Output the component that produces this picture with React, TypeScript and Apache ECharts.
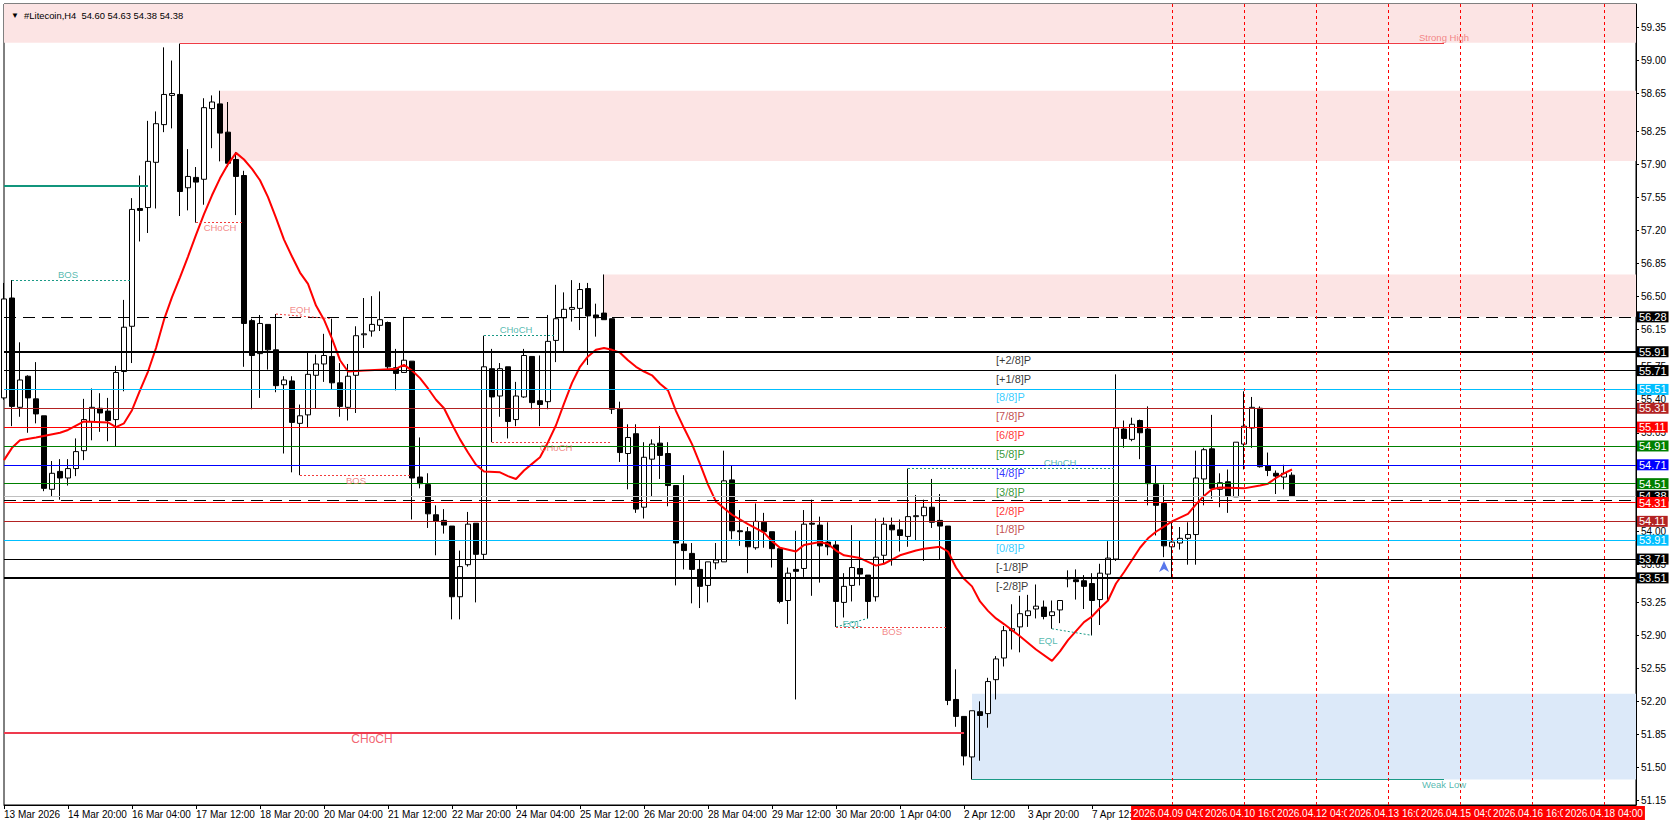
import React, { useEffect, useRef } from "react";
import * as echarts from "echarts";

const FONT = "Liberation Sans, Arial, sans-serif";

// ---- axis data ----
const SLOT_COUNT = 205; // bars + empty future slots on the time axis
const categories = Array.from({ length: SLOT_COUNT }, (_, i) => String(i));
const timeLabels = [
  "13 Mar 2026", "14 Mar 20:00", "16 Mar 04:00", "17 Mar 12:00", "18 Mar 20:00",
  "20 Mar 04:00", "21 Mar 12:00", "22 Mar 20:00", "24 Mar 04:00", "25 Mar 12:00",
  "26 Mar 20:00", "28 Mar 04:00", "29 Mar 12:00", "30 Mar 20:00", "1 Apr 04:00",
  "2 Apr 12:00", "3 Apr 20:00", "7 Apr 12:00",
];
const yTicks = [
  59.35, 59.0, 58.65, 58.25, 57.9, 57.55, 57.2, 56.85, 56.5, 56.15, 55.75, 55.4,
  55.05, 54.7, 54.35, 54.0, 53.65, 53.25, 52.9, 52.55, 52.2, 51.85, 51.5, 51.15,
];

// ---- candles (H4) ----
const opens = [55.42,56.48,55.32,55.65,55.41,55.23,54.45,54.64,54.57,54.67,
54.86,55.17,55.31,55.28,55.19,55.70,56.18,57.43,57.44,57.92,
58.32,58.63,58.64,57.65,57.76,57.74,58.49,58.54,58.24,57.95,
57.78,56.24,55.89,56.20,55.93,55.56,55.60,55.15,55.24,55.66,
55.78,55.86,55.58,55.32,55.66,56.09,56.13,56.19,56.22,55.74,
55.69,55.81,54.58,54.50,54.18,54.12,54.06,53.31,53.65,54.09,
53.76,55.73,55.44,55.75,55.19,55.43,55.86,55.39,55.38,56.03,
56.27,56.36,56.37,56.58,56.30,56.32,56.26,55.30,54.83,55.04,
54.26,54.77,54.94,54.83,54.49,53.87,53.77,53.60,53.43,53.67,
53.68,54.55,54.01,54.00,53.83,54.10,54.00,53.82,53.27,53.60,
53.61,54.09,54.07,53.89,53.86,53.25,53.43,53.61,53.54,53.31,
53.75,54.07,54.02,53.95,54.16,54.17,54.26,54.12,54.06,52.22,
52.04,51.61,52.09,52.07,52.43,52.66,52.95,52.99,53.11,53.18,
53.20,53.11,53.17,53.50,53.49,53.48,53.45,53.28,53.55,53.71,
55.09,54.98,55.18,55.09,54.50,54.30,53.84,53.88,53.93,53.97,
54.56,54.88,54.45,54.53,54.37,54.93,55.10,55.31,54.70,54.62,
54.58,54.60];
const highs = [56.64,56.67,56.01,55.66,55.80,55.23,54.75,54.77,54.77,54.99,
55.41,55.52,55.47,55.42,55.76,56.46,57.54,57.78,58.36,58.46,
59.14,59.00,59.18,58.06,57.87,58.60,58.63,58.68,58.56,58.03,
57.83,56.26,56.30,56.20,56.31,55.65,55.65,55.35,55.90,55.88,
56.10,56.26,55.79,55.78,56.18,56.48,56.50,56.55,56.23,55.94,
56.28,55.81,55.00,54.62,54.28,54.24,54.06,53.80,54.21,54.09,
56.08,55.94,55.79,55.75,55.59,55.94,55.86,55.87,56.30,56.62,
56.54,56.67,56.64,56.64,56.42,56.73,56.26,55.38,55.14,55.14,
54.95,54.98,55.12,54.95,54.49,54.60,53.88,53.71,53.68,53.88,
54.86,54.70,54.23,54.05,54.30,54.20,54.00,53.82,53.62,54.01,
54.23,54.34,54.16,54.10,53.91,53.56,54.07,53.91,53.54,54.14,
54.15,54.15,54.13,54.67,54.39,54.34,54.56,54.40,54.06,52.54,
52.04,52.10,52.20,52.45,52.68,53.00,53.23,53.32,53.33,53.44,
53.27,53.27,53.27,53.59,53.60,53.54,53.56,53.66,53.90,55.67,
55.18,55.21,55.19,55.33,54.70,54.50,54.10,54.05,54.10,54.86,
54.89,55.24,54.62,54.66,54.95,55.49,55.43,55.33,54.84,54.65,
54.71,54.63];
const lows = [55.40,55.12,55.22,55.05,55.15,54.43,54.37,54.34,54.49,54.59,
54.76,54.97,55.06,54.96,54.90,55.49,55.79,57.08,57.17,57.43,
58.24,58.28,57.35,57.41,57.28,57.47,58.07,57.93,57.87,57.36,
55.75,55.30,55.42,55.72,55.48,54.83,54.63,54.60,55.10,55.31,
55.59,55.51,55.22,55.18,55.26,55.95,56.07,56.13,55.71,55.50,
55.69,54.13,54.46,54.04,53.75,53.98,53.07,53.07,53.63,53.25,
53.70,54.95,55.22,54.99,55.12,55.42,55.30,55.12,55.30,55.80,
55.91,56.23,56.14,55.77,56.07,56.25,55.25,54.74,54.45,54.20,
54.14,54.37,54.56,54.27,53.43,53.60,53.24,53.19,53.25,53.60,
53.68,53.92,53.85,53.56,53.81,53.83,53.62,53.24,53.02,52.22,
53.52,53.32,53.46,53.75,52.99,53.09,53.26,53.43,53.08,53.26,
53.66,53.64,53.79,53.84,53.91,53.69,54.04,53.71,52.16,51.93,
51.52,51.37,51.57,51.92,52.22,52.57,52.75,52.72,52.99,53.08,
53.07,52.97,53.03,53.41,53.28,53.18,52.90,53.01,53.27,53.69,
54.89,54.96,54.77,54.28,53.96,53.73,53.51,53.81,53.65,53.65,
54.28,54.35,54.26,54.20,54.37,54.66,54.89,54.68,54.59,54.40,
54.45,54.38];
const closes = [56.47,55.33,55.61,55.42,55.25,54.46,54.62,54.57,54.67,54.85,
55.19,55.32,55.26,55.18,55.69,56.17,57.42,57.41,57.93,58.33,
58.64,58.65,57.61,57.77,57.71,58.50,58.56,58.23,57.91,57.77,
56.21,55.87,56.21,55.93,55.55,55.61,55.16,55.23,55.67,55.78,
55.87,55.58,55.33,55.65,56.08,56.10,56.20,56.25,55.75,55.68,
55.82,54.57,54.51,54.19,54.11,54.07,53.31,53.63,54.08,53.76,
55.75,55.43,55.73,55.17,55.44,55.87,55.37,55.35,56.02,56.26,
56.36,56.38,56.57,56.29,56.27,56.25,55.30,54.84,55.00,54.24,
54.79,54.93,54.81,54.49,53.88,53.80,53.60,53.42,53.68,53.70,
54.54,54.01,54.00,53.84,54.11,54.00,53.82,53.26,53.56,53.58,
54.08,54.08,53.85,53.84,53.26,53.42,53.62,53.55,53.26,53.73,
54.08,54.02,53.96,54.16,54.17,54.26,54.10,54.06,52.21,52.04,
51.62,52.10,52.05,52.41,52.65,52.95,52.97,53.13,53.16,53.21,
53.10,53.15,53.27,53.51,53.47,53.42,53.27,53.56,53.72,55.10,
54.99,55.14,55.05,54.51,54.28,53.85,53.89,53.93,53.97,54.57,
54.87,54.46,54.52,54.38,54.95,55.12,55.32,54.69,54.65,54.59,
54.62,54.38];

// ---- moving average (bar index, value) ----
const maPoints = [
  [0,54.76],[1,54.89],[2,54.97],[4,55.00],[7,55.05],[8,55.08],[10,55.17],[13,55.16],[14,55.11],[15,55.15],
  [16,55.29],[17,55.50],[18,55.70],[19,55.95],[20,56.25],[21,56.49],[22,56.70],[23,56.92],[24,57.15],[25,57.37],
  [26,57.57],[27,57.75],[28,57.90],[29,58.02],[30,57.95],[31,57.85],[32,57.73],[33,57.55],[34,57.33],[35,57.10],
  [36,56.92],[37,56.75],[38,56.63],[39,56.40],[40,56.25],[41,56.05],[42,55.82],[43,55.70],[45,55.71],[47,55.72],
  [49,55.73],[50,55.77],[51,55.71],[52,55.63],[53,55.52],[54,55.40],[55,55.31],[56,55.14],[57,54.98],[58,54.84],
  [59,54.71],[60,54.64],[62,54.63],[63,54.59],[64,54.56],[65,54.65],[66,54.72],[67,54.79],[68,54.95],[69,55.13],
  [70,55.36],[71,55.58],[72,55.75],[73,55.86],[74,55.93],[75,55.95],[76,55.93],[77,55.90],[78,55.82],[79,55.75],
  [80,55.70],[81,55.66],[82,55.57],[83,55.50],[84,55.28],[85,55.10],[86,54.93],[87,54.72],[88,54.50],[89,54.32],
  [91,54.18],[93,54.08],[95,53.99],[96,53.90],[97,53.83],[99,53.79],[100,53.86],[102,53.89],[103,53.87],[104,53.80],
  [105,53.75],[107,53.72],[109,53.64],[110,53.66],[112,53.75],[114,53.80],[115,53.82],[117,53.84],[118,53.79],[119,53.62],
  [120,53.50],[121,53.42],[122,53.26],[123,53.16],[124,53.08],[125,53.02],[127,52.89],[129,52.75],[131,52.63],[132,52.73],
  [133,52.85],[135,53.04],[136,53.10],[137,53.19],[138,53.27],[139,53.45],[140,53.57],[141,53.70],[142,53.83],[143,53.93],
  [144,54.00],[146,54.11],[148,54.19],[149,54.29],[150,54.38],[151,54.45],[152,54.47],[155,54.46],[157,54.49],[158,54.51],
  [159,54.57],[160,54.62],[161,54.66],
];

// ---- Murrey math levels ----
const levelValues = [55.91, 55.71, 55.51, 55.31, 55.11, 54.91, 54.71, 54.51, 54.31, 54.11, 53.91, 53.71, 53.51];
const levelNames = ["[+2/8]P", "[+1/8]P", "[8/8]P", "[7/8]P", "[6/8]P", "[5/8]P", "[4/8]P", "[3/8]P", "[2/8]P", "[1/8]P", "[0/8]P", "[-1/8]P", "[-2/8]P"];
const levelColors = ["#000000", "#000000", "#00BFFF", "#B22222", "#FF0000", "#008000", "#0000FF", "#008000", "#FF0000", "#B22222", "#00BFFF", "#000000", "#000000"];
const levelWidths = [2, 1, 1, 1, 1, 1, 1, 1, 1, 1, 1, 1, 2];
const levelTextBar = 124;

const dashedLevels = [56.28, 54.33];
const bidPrice = 54.38;

// right-side price boxes
const boxValues = [56.28, 55.91, 55.71, 55.51, 55.31, 55.11, 54.91, 54.71, 54.51, 54.38, 54.31, 54.11, 53.91, 53.71, 53.51];
const boxColors = ["#000000", "#000000", "#000000", "#00BFFF", "#B22222", "#FF0000", "#008000", "#0000FF", "#008000", "#000000", "#FF0000", "#B22222", "#00BFFF", "#000000", "#000000"];

// ---- supply / demand zones ----
const zoneStart = [0, 27, 75, 121];
const zoneLow = [59.19, 57.935, 56.28, 51.37];
const zoneHigh = [59.6, 58.68, 56.73, 52.28];
const zoneDemand = [false, false, false, true];

// ---- structure segments (BOS / CHoCH / EQH / EQL) ----
const segFrom = [1, 24, 34, 60, 61, 37, 104, 104, 131, 113];
const segTo = [16, 30, 41, 69, 76, 51, 108, 118, 136, 139];
const segFromPrice = [56.67, 57.28, 56.31, 56.08, 54.95, 54.6, 52.99, 52.99, 52.97, 54.67];
const segToPrice = [56.67, 57.28, 56.26, 56.08, 54.95, 54.6, 53.08, 52.99, 52.9, 54.67];
const segBull = [true, false, false, true, false, false, true, false, true, true];

// text labels of the structure
const labelTexts = ["BOS", "CHoCH", "EQH", "CHoCH", "CHoCH", "BOS", "EQL", "BOS", "EQL", "CHoCH", "Strong High", "Weak Low", "CHoCH"];
const labelBars = [8, 27, 37, 64, 69, 44, 106, 111, 132, 132, 180, 180, 46];
const labelPrices = [56.67, 57.28, 56.29, 56.08, 54.95, 54.6, 53.08, 52.99, 52.9, 54.67, 59.18, 51.37, 51.87];
const labelAbove = [true, false, true, true, false, false, false, false, false, true, true, false, false];
const labelBull = [true, false, false, true, false, false, true, false, true, true, false, true, false];

// key swing lines
const tealLevel = 57.67, tealFrom = 0, tealTo = 18;
const strongHigh = 59.18, strongFrom = 22, strongTo = 180;
const weakLow = 51.37, weakFrom = 121, weakTo = 180;
const bigChoch = 51.87, bigChochFrom = 0, bigChochTo = 120;

// future time markers
const futureBars = [146, 155, 164, 173, 182, 191, 200];
const futureLabels = ["2026.04.09 04:00", "2026.04.10 16:00", "2026.04.12 04:00", "2026.04.13 16:00", "2026.04.15 04:00", "2026.04.16 16:00", "2026.04.18 04:00"];

const arrowPoint = [145, 53.63];

const TEAL_LINE = "#1a9a86";
const TEAL_TEXT = "#2aa79b";
const RED_LINE = "#f23b3b";
const RED_TEXT = "#f06c6c";
const CLEAR = "rgba(0,0,0,0)";

function buildOption(): any {
  const candleData = opens.map((o, i) => [o, closes[i], lows[i], highs[i]]);

  const zoneAreas = zoneStart.map((s, i) => [
    { xAxis: s, yAxis: zoneLow[i], itemStyle: { color: zoneDemand[i] ? "#dce9f9" : "#fce4e4" } },
    { xAxis: SLOT_COUNT - 1, yAxis: zoneHigh[i] },
  ]);

  const lineData: any[] = [];
  levelValues.forEach((v, i) => {
    lineData.push({ yAxis: v, lineStyle: { color: levelColors[i], width: levelWidths[i], type: "solid" } });
  });
  dashedLevels.forEach((v) => {
    lineData.push({ yAxis: v, lineStyle: { color: "#000000", width: 1, type: [12, 7] } });
  });
  lineData.push({ yAxis: bidPrice, lineStyle: { color: "#c0c0c0", width: 1, type: "solid" } });
  lineData.push([
    { coord: [tealFrom, tealLevel], lineStyle: { color: "#11957c", width: 2, type: "solid" } },
    { coord: [tealTo, tealLevel] },
  ]);
  lineData.push([
    { coord: [strongFrom, strongHigh], lineStyle: { color: "#ef3b45", width: 1, type: "solid" } },
    { coord: [strongTo, strongHigh] },
  ]);
  lineData.push([
    { coord: [weakFrom, weakLow], lineStyle: { color: "#1a9a86", width: 1, type: "solid" } },
    { coord: [weakTo, weakLow] },
  ]);
  lineData.push([
    { coord: [bigChochFrom, bigChoch], lineStyle: { color: "#ee3a4e", width: 2, type: "solid" } },
    { coord: [bigChochTo, bigChoch] },
  ]);
  segFrom.forEach((f, i) => {
    lineData.push([
      { coord: [f, segFromPrice[i]], lineStyle: { color: segBull[i] ? TEAL_LINE : RED_LINE, width: 1, type: [2, 2] } },
      { coord: [segTo[i], segToPrice[i]] },
    ]);
  });
  futureBars.forEach((b) => {
    lineData.push({ xAxis: b, lineStyle: { color: "#ff0000", width: 1, type: [3, 3] } });
  });

  const boxData: any[] = boxValues.map((v, i) => ({
    yAxis: v,
    lineStyle: { color: CLEAR, width: 1 },
    label: {
      show: true,
      position: "end",
      distance: 1,
      formatter: v.toFixed(2),
      backgroundColor: boxColors[i],
      color: "#ffffff",
      opacity: 1,
      fontSize: 11,
      fontFamily: FONT,
      lineHeight: 11,
      padding: [0, 2, 0, 2],
    },
  }));
  futureBars.forEach((b, i) => {
    boxData.push({
      xAxis: b,
      lineStyle: { color: CLEAR, width: 1 },
      label: {
        show: true,
        position: "start",
        distance: 1,
        formatter: futureLabels[i],
        backgroundColor: "#ff0000",
        color: "#ffffff",
        opacity: 1,
        fontSize: 10,
        fontFamily: FONT,
        lineHeight: 12,
        padding: [1, 2, 1, 2],
      },
    });
  });

  const levelTextData = levelValues.map((v, i) => ({
    value: [levelTextBar, v],
    label: { color: levelColors[i] },
  }));

  const structTextData = labelTexts.map((t, i) => {
    const isBig = i === labelTexts.length - 1;
    let offset = [0, 0];
    if (i === 8) offset = [-12, 0];
    if (isBig) offset = [0, 1];
    return {
      value: [labelBars[i], labelPrices[i]],
      label: {
        position: labelAbove[i] ? "top" : "bottom",
        distance: labelAbove[i] ? 1 : 0,
        color: isBig ? "#ee3a4e" : labelBull[i] ? TEAL_TEXT : RED_TEXT,
        fontSize: isBig ? 12 : 9.5,
        offset,
        formatter: t,
      },
    };
  });

  return {
    animation: false,
    backgroundColor: "#ffffff",
    textStyle: { fontFamily: FONT },
    title: {
      text: "{t|▼}  #Litecoin,H4  54.60 54.63 54.38 54.38",
      left: 6,
      top: 6,
      textStyle: {
        fontSize: 9.4,
        fontWeight: "normal",
        color: "#000000",
        fontFamily: FONT,
        rich: { t: { fontSize: 8, color: "#000000" } },
      },
    },
    grid: {
      left: 4,
      right: 38,
      top: 4,
      bottom: 22,
      show: true,
      borderColor: "#000000",
      borderWidth: 1,
      backgroundColor: "#ffffff",
    },
    xAxis: {
      type: "category",
      data: categories,
      boundaryGap: false,
      axisLine: { show: true, lineStyle: { color: "#000000", width: 1 } },
      axisTick: {
        show: true,
        length: 4,
        interval: (i: number) => i % 8 === 0 && i <= 160,
        lineStyle: { color: "#000000" },
      },
      axisLabel: {
        interval: (i: number) => i % 8 === 0 && i <= 136,
        formatter: (_v: string, i: number) => timeLabels[Math.round(i / 8)] || "",
        align: "left",
        margin: 4,
        fontSize: 10,
        color: "#000000",
        fontFamily: FONT,
      },
      splitLine: { show: false },
    },
    yAxis: {
      type: "value",
      position: "right",
      min: 51.1,
      max: 59.6,
      axisLine: { show: true, lineStyle: { color: "#000000" } },
      axisTick: { show: true, length: 3, customValues: yTicks, lineStyle: { color: "#000000" } },
      axisLabel: {
        customValues: yTicks,
        formatter: (v: number) => v.toFixed(2),
        margin: 5,
        fontSize: 10,
        color: "#000000",
        fontFamily: FONT,
      },
      splitLine: { show: false },
    },
    series: [
      {
        name: "zones",
        type: "line",
        data: [],
        z: 1,
        silent: true,
        markArea: { silent: true, data: zoneAreas },
      },
      {
        name: "levels",
        type: "line",
        data: [],
        z: 2,
        silent: true,
        markLine: {
          silent: true,
          symbol: ["none", "none"],
          label: { show: false },
          emphasis: { disabled: true },
          lineStyle: { type: "solid" },
          data: lineData,
        },
      },
      {
        name: "Litecoin",
        type: "candlestick",
        data: candleData,
        z: 3,
        silent: true,
        barWidth: 5,
        itemStyle: {
          color: "#ffffff",
          color0: "#000000",
          borderColor: "#000000",
          borderColor0: "#000000",
          borderWidth: 1,
        },
      },
      {
        name: "MA",
        type: "line",
        data: maPoints,
        z: 4,
        silent: true,
        showSymbol: false,
        symbol: "none",
        lineStyle: { color: "#ff0000", width: 2 },
      },
      {
        name: "levelText",
        type: "scatter",
        data: levelTextData,
        z: 6,
        silent: true,
        symbolSize: 0,
        label: {
          show: true,
          position: "right",
          distance: 0,
          offset: [0, 8],
          fontSize: 11,
          fontFamily: FONT,
          formatter: (p: any) => levelNames[p.dataIndex],
        },
      },
      {
        name: "structText",
        type: "scatter",
        data: structTextData,
        z: 6,
        silent: true,
        symbolSize: 0,
        label: { show: true, fontFamily: FONT },
      },
      {
        name: "arrow",
        type: "scatter",
        data: [arrowPoint],
        z: 7,
        silent: true,
        symbol: "path://M5 0 L10 12 L5 8.5 L0 12 Z",
        symbolSize: [10, 11],
        itemStyle: { color: "#2f55e6" },
      },
      {
        name: "boxes",
        type: "line",
        data: [],
        z: 10,
        silent: true,
        markLine: {
          silent: true,
          symbol: ["none", "none"],
          lineStyle: { color: CLEAR, type: "solid" },
          label: { show: true },
          emphasis: { disabled: true },
          data: boxData,
        },
      },
    ],
  };
}

export default function App() {
  const ref = useRef<HTMLDivElement>(null);
  useEffect(() => {
    if (!ref.current) return;
    const chart = echarts.init(ref.current, undefined, { renderer: "svg" });
    chart.setOption(buildOption());
    return () => chart.dispose();
  }, []);
  return (
    <div
      ref={ref}
      style={{ position: "fixed", left: 0, top: 0, width: 1674, height: 827, background: "#ffffff" }}
    />
  );
}
